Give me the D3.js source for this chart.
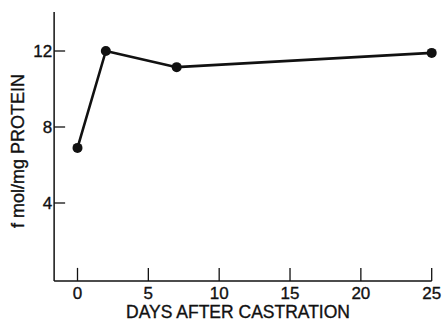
<!DOCTYPE html>
<html>
<head>
<meta charset="utf-8">
<script src="https://cdn.jsdelivr.net/npm/d3@7"></script>
<style>
	body { margin: 0; background: #fff; }
	text { font-family: "Liberation Sans", Arial, sans-serif; fill: #111; stroke: #111; stroke-width: 0.35px; }
</style>
</head>
<body>
<svg id="chart" width="445" height="328"></svg>
<script>
// values
var days = [0, 2, 7, 25];
var fmol = [6.9, 12.0, 11.15, 11.9];
var xTicks = [0, 5, 10, 15, 20, 25];
var yTicks = [4, 8, 12];
var xTitle = "DAYS AFTER CASTRATION";
var yTitle = "f mol/mg PROTEIN";

var svg = d3.select("#chart");

// scales - axis lines sit a bit outside the data range like the original
var x = d3.scaleLinear().domain([0, 25]).range([77.5, 431.7]);
var y = d3.scaleLinear().domain([0, 14]).range([279, 13]);

var axisX0 = x(-1.65), axisY0 = y(-0.1);

var g = svg.append("g");

// y axis line
g.append("line")
	.attr("x1", axisX0).attr("x2", axisX0)
	.attr("y1", y(14.05)).attr("y2", axisY0)
	.attr("stroke", "#111").attr("stroke-width", 1.5);
// x axis line
g.append("line")
	.attr("x1", axisX0).attr("x2", x(25))
	.attr("y1", axisY0).attr("y2", axisY0)
	.attr("stroke", "#111").attr("stroke-width", 1.5);

// y ticks point inward
g.selectAll(".ytick").data(yTicks).enter().append("line")
	.attr("class", "ytick")
	.attr("x1", axisX0).attr("x2", axisX0 + 11)
	.attr("y1", function(d){ return y(d); })
	.attr("y2", function(d){ return y(d); })
	.attr("stroke", "#111").attr("stroke-width", 1.3);
g.selectAll(".ylab").data(yTicks).enter().append("text")
	.attr("class", "ylab")
	.attr("x", axisX0 - 2)
	.attr("y", function(d){ return y(d); })
	.attr("dy", "0.36em")
	.attr("text-anchor", "end")
	.style("font-size", "17px")
	.text(function(d){ return d; });

// x ticks point upward
g.selectAll(".xtick").data(xTicks).enter().append("line")
	.attr("class", "xtick")
	.attr("x1", function(d){ return x(d); })
	.attr("x2", function(d){ return x(d); })
	.attr("y1", axisY0).attr("y2", axisY0 - 13)
	.attr("stroke", "#111").attr("stroke-width", 1.3);
g.selectAll(".xlab").data(xTicks).enter().append("text")
	.attr("class", "xlab")
	.attr("x", function(d){ return x(d); })
	.attr("y", 299)
	.attr("text-anchor", "middle")
	.style("font-size", "17px")
	.text(function(d){ return d; });

// titles
svg.append("text")
	.attr("x", 238).attr("y", 318)
	.attr("text-anchor", "middle")
	.style("font-size", "17.5px")
	.text(xTitle);
svg.append("text")
	.attr("transform", "translate(24,151) rotate(-90)")
	.attr("text-anchor", "middle")
	.style("font-size", "18px")
	.text(yTitle);

// data line and dots
var pts = days.map(function(d, i){ return [d, fmol[i]]; });
var line = d3.line()
	.x(function(d){ return x(d[0]); })
	.y(function(d){ return y(d[1]); });

g.append("path")
	.datum(pts)
	.attr("d", line)
	.attr("fill", "none")
	.attr("stroke", "#111")
	.attr("stroke-width", 2.6)
	.attr("stroke-linejoin", "round");

g.selectAll(".dot").data(pts).enter().append("circle")
	.attr("class", "dot")
	.attr("cx", function(d){ return x(d[0]); })
	.attr("cy", function(d){ return y(d[1]); })
	.attr("r", 5)
	.attr("fill", "#111");
</script>
</body>
</html>
